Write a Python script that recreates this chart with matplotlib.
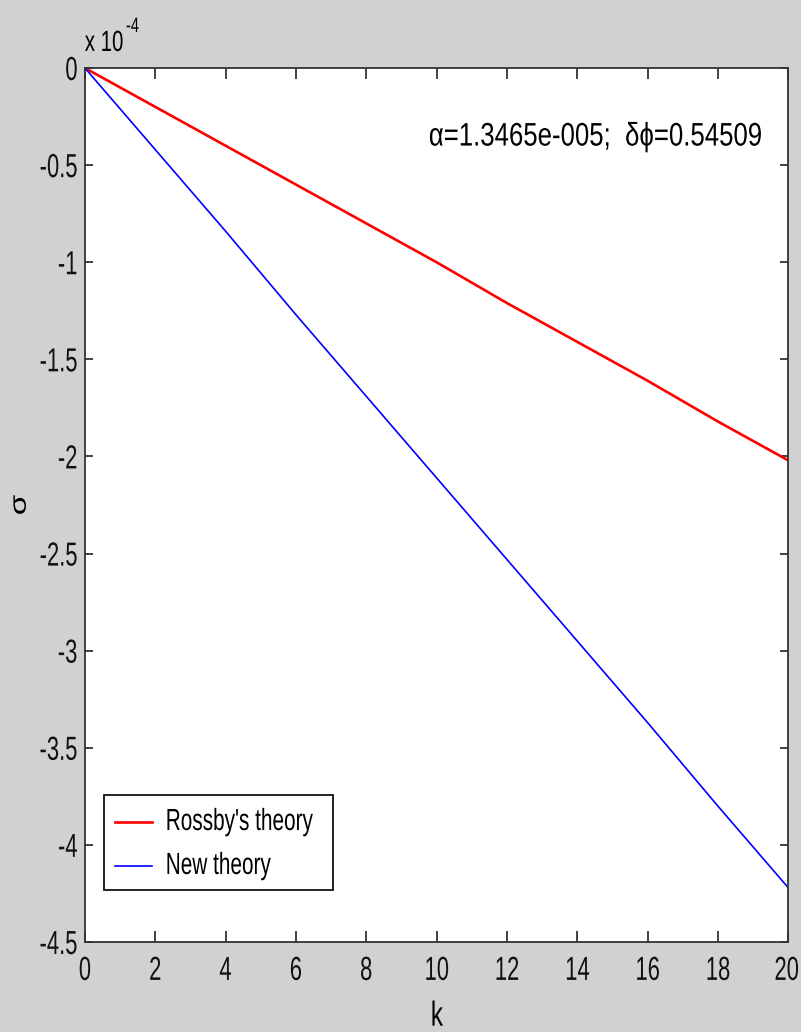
import matplotlib
matplotlib.use("Agg")
import matplotlib.pyplot as plt
from matplotlib import patheffects
from matplotlib.transforms import Affine2D, ScaledTranslation
from matplotlib.patches import Rectangle
from matplotlib.lines import Line2D

# growth rate sigma (in units of 1e-4) against wavenumber k
k = [0, 2, 4, 6, 8, 10, 12, 14, 16, 18, 20]
sigma_rossby = [0, -0.20, -0.40, -0.60, -0.80, -1.00, -1.21, -1.41, -1.61, -1.82, -2.02]
sigma_new = [0, -0.42, -0.84, -1.27, -1.69, -2.11, -2.53, -2.95, -3.37, -3.80, -4.22]
series_labels = ["Rossby's theory", 'New theory']
series_colors = ['#ff0000', '#0000ff']

x_ticks = list(range(0, 21, 2))
y_ticks = [0, -0.5, -1, -1.5, -2, -2.5, -3, -3.5, -4, -4.5]
y_tick_labels = ['0', '-0.5', '-1', '-1.5', '-2', '-2.5', '-3', '-3.5', '-4', '-4.5']


class Squeeze(patheffects.AbstractPathEffect):
    """Draw text narrower on screen, about its left/centre/right ink edge."""

    def __init__(self, sx=0.7, anchor='center'):
        super().__init__()
        self.sx = sx
        self.anchor = anchor

    def draw_path(self, renderer, gc, tpath, affine, rgbFace=None):
        ext = tpath.get_extents(affine)
        p = {'left': ext.x0, 'center': 0.5 * (ext.x0 + ext.x1), 'right': ext.x1}[self.anchor]
        t = affine + Affine2D().translate(-p, 0).scale(self.sx, 1).translate(p, 0)
        renderer.draw_path(gc, tpath, t, rgbFace)


plt.rcParams['font.family'] = ['Liberation Sans', 'DejaVu Sans']

bg = '#d1d1d1'
fig = plt.figure(figsize=(8.01, 10.32), dpi=100, facecolor=bg)
ax = fig.add_axes([0.106, 0.0872, 0.878, 0.8469])

ax.plot(k, sigma_rossby, color=series_colors[0], lw=1.9)
ax.plot(k, sigma_new, color=series_colors[1], lw=1.2)

ax.set_xlim(0, 20)
ax.set_ylim(-4.5, 0)
ax.set_xticks(x_ticks)
ax.set_yticks(y_ticks)
ax.set_yticklabels(y_tick_labels)
ax.tick_params(direction='in', width=1.2, top=True, right=True,
               labelsize=24, colors='#222222', labelcolor='#111111')
ax.tick_params(axis='x', length=8, pad=10)
ax.tick_params(axis='y', length=5.5, pad=5)
for s in ax.spines.values():
    s.set_color('#333333')
    s.set_linewidth(1.3)

ax.set_xlabel('k', fontsize=25)
ax.xaxis.set_label_coords(0.5, -0.066)
ax.set_ylabel('σ', fontsize=24, va='center')
ax.yaxis.set_label_coords(-0.0925, 0.5)

# exponent note above the y axis
t1 = ax.text(0.055, 1.0195, 'x 10', transform=ax.transAxes, fontsize=21,
             ha='right', va='baseline')
t2 = ax.text(0.058, 1.0412, '-4', transform=ax.transAxes, fontsize=15,
             ha='left', va='baseline')
t1.set_path_effects([Squeeze(0.7, 'right')])
t2.set_path_effects([Squeeze(0.7, 'left')])

note = ax.text(0.9644, 0.921, 'α=1.3465e-005;  δϕ=0.54509', transform=ax.transAxes,
               fontsize=23.5, ha='right', va='center')
note.set_path_effects([Squeeze(0.79, 'right')])

# legend box
ax.add_patch(Rectangle((0.027, 0.0595), 0.326, 0.1085, transform=ax.transAxes,
                       facecolor='white', edgecolor='#111111', lw=1.3, zorder=5))
for lab, col, yy, lw in zip(series_labels, series_colors, [0.1373, 0.087], [1.9, 1.2]):
    ax.add_line(Line2D([0.0427, 0.0953], [yy, yy], transform=ax.transAxes,
                       color=col, lw=lw, zorder=6))
    lt = ax.text(0.1138, yy, lab, transform=ax.transAxes, fontsize=22,
                 ha='left', va='center', zorder=6)
    lt.set_path_effects([Squeeze(0.68, 'left')])

fig.canvas.draw()
xlabels = ax.get_xticklabels()
for lbl in xlabels:
    lbl.set_path_effects([Squeeze(0.66, 'center')])
# last x label sits against the right edge of the figure
last = xlabels[-1]
last.set_ha('right')
last.set_transform(last.get_transform() + ScaledTranslation(8 / 72, 0, fig.dpi_scale_trans))
last.set_path_effects([Squeeze(0.66, 'right')])
for lbl in ax.get_yticklabels():
    lbl.set_path_effects([Squeeze(0.66, 'right')])
ax.xaxis.label.set_path_effects([Squeeze(0.7, 'center')])
ax.yaxis.label.set_path_effects([Squeeze(0.7, 'center')])

fig.savefig('out.png', dpi=100, facecolor=bg)
